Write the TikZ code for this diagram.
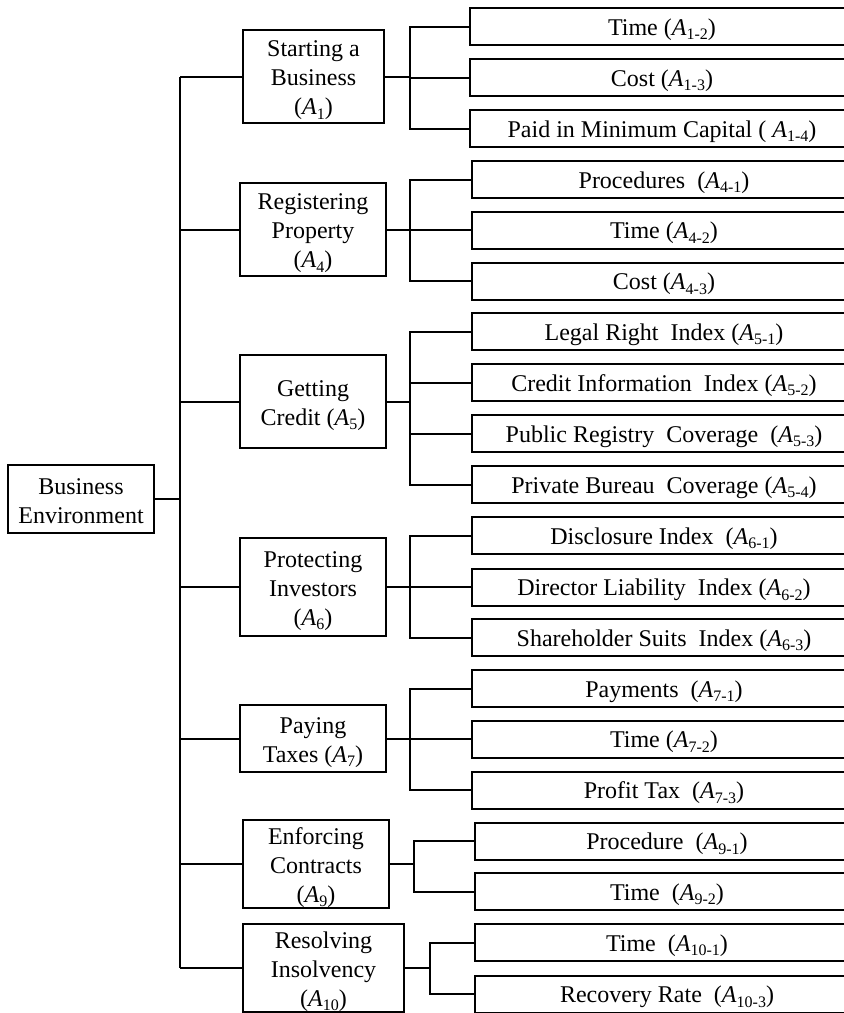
\documentclass[tikz,border=0pt]{standalone}
\usepackage{fontspec}
\setmainfont{Liberation Serif}
% italic A with a lowered, smaller index that does not change the line depth
\newcommand\Ai[1]{\textit{A}{\fontsize{16}{16}\selectfont\raisebox{-4.5pt}[0pt][0pt]{#1}}}
% taller first line for the category boxes
\newcommand\toprule{\rule{0pt}{24pt}}
\tikzset{
  box/.style={draw, line width=2pt, align=center, inner sep=2pt,
    font=\fontsize{24}{29}\selectfont},
  catbox/.style={box, inner ysep=0pt},
  leafbox/.style={box, anchor=west, minimum width=384pt, minimum height=37pt,
    text height=17pt, text depth=0pt},
  link/.style={line width=2pt}
}
\begin{document}
\begin{tikzpicture}[x=1pt, y=-1pt]
\useasboundingbox (0,0) rectangle (844,1013);

% root
\node[box, minimum width=146pt, minimum height=68pt] (root) at (81,499) {\rule{0pt}{20pt}Business\\Environment};

% first-level categories
\node[catbox, minimum width=141pt, minimum height=93pt] (a1) at (313.5,76.5) {\toprule Starting a\\Business\\(\Ai{1})};
\node[catbox, minimum width=146pt, minimum height=93pt] (a4) at (313,229.5) {\toprule Registering\\Property\\(\Ai{4})};
\node[catbox, minimum width=146pt, minimum height=93pt] (a5) at (313,401.5) {\toprule Getting\\Credit (\Ai{5})};
\node[catbox, minimum width=146pt, minimum height=98pt] (a6) at (313,587) {\toprule Protecting\\Investors\\(\Ai{6})};
\node[catbox, minimum width=146pt, minimum height=67pt] (a7) at (313,738.5) {\toprule Paying\\Taxes (\Ai{7})};
\node[catbox, minimum width=146pt, minimum height=88pt] (a9) at (316,864) {\toprule Enforcing\\Contracts\\(\Ai{9})};
\node[catbox, minimum width=161pt, minimum height=88pt] (a10) at (323.5,968) {\toprule Resolving\\Insolvency\\(\Ai{10})};

% indicators
\node[leafbox] (l1) at (469,26.5) {Time (\Ai{1-2})};
\node[leafbox] (l2) at (469,77.5) {Cost (\Ai{1-3})};
\node[leafbox] (l3) at (469,128.5) {Paid in Minimum Capital ( \Ai{1-4})};
\node[leafbox] (l4) at (471,179.5) {Procedures\ \ (\Ai{4-1})};
\node[leafbox] (l5) at (471,230) {Time (\Ai{4-2})};
\node[leafbox] (l6) at (471,281) {Cost (\Ai{4-3})};
\node[leafbox] (l7) at (471,331.5) {Legal Right\ \ Index (\Ai{5-1})};
\node[leafbox] (l8) at (471,382.5) {Credit Information\ \ Index (\Ai{5-2})};
\node[leafbox] (l9) at (471,433.5) {Public Registry\ \ Coverage\ \ (\Ai{5-3})};
\node[leafbox] (l10) at (471,484.5) {Private Bureau\ \ Coverage (\Ai{5-4})};
\node[leafbox] (l11) at (471,535.5) {Disclosure Index\ \ (\Ai{6-1})};
\node[leafbox] (l12) at (471,587) {Director Liability\ \ Index (\Ai{6-2})};
\node[leafbox] (l13) at (471,637.5) {Shareholder Suits\ \ Index (\Ai{6-3})};
\node[leafbox] (l14) at (471,688.5) {Payments\ \ (\Ai{7-1})};
\node[leafbox] (l15) at (471,739) {Time (\Ai{7-2})};
\node[leafbox] (l16) at (471,790) {Profit Tax\ \ (\Ai{7-3})};
\node[leafbox] (l17) at (474,841) {Procedure\ \ (\Ai{9-1})};
\node[leafbox] (l18) at (474,891.5) {Time\ \ (\Ai{9-2})};
\node[leafbox] (l19) at (474,942.5) {Time\ \ (\Ai{10-1})};
\node[leafbox] (l20) at (474,994) {Recovery Rate\ \ (\Ai{10-3})};

% trunk and branch columns
\coordinate (trunk) at (180,0);
\coordinate (bA) at (410,0);
\coordinate (bB) at (414,0);
\coordinate (bC) at (430,0);

% root to categories
\draw[link] (root.east) -- (root.east -| trunk);
\draw[link] (a1.west -| trunk) -- (a10.west -| trunk);
\foreach \n in {a1,a4,a5,a6,a7,a9,a10}
  \draw[link] (\n.west) -- (\n.west -| trunk);

% categories to indicators
\draw[link] (a1.east) -- (a1.east -| bA);
\draw[link] (l1.west) -| (bA |- l3.west) -- (l3.west);
\draw[link] (l2.west) -- (l2.west -| bA);

\draw[link] (a4.east) -- (a4.east -| bA);
\draw[link] (l4.west) -| (bA |- l6.west) -- (l6.west);
\draw[link] (l5.west) -- (l5.west -| bA);

\draw[link] (a5.east) -- (a5.east -| bA);
\draw[link] (l7.west) -| (bA |- l10.west) -- (l10.west);
\draw[link] (l8.west) -- (l8.west -| bA);
\draw[link] (l9.west) -- (l9.west -| bA);

\draw[link] (a6.east) -- (a6.east -| bA);
\draw[link] (l11.west) -| (bA |- l13.west) -- (l13.west);
\draw[link] (l12.west) -- (l12.west -| bA);

\draw[link] (a7.east) -- (a7.east -| bA);
\draw[link] (l14.west) -| (bA |- l16.west) -- (l16.west);
\draw[link] (l15.west) -- (l15.west -| bA);

\draw[link] (a9.east) -- (a9.east -| bB);
\draw[link] (l17.west) -| (bB |- l18.west) -- (l18.west);

\draw[link] (a10.east) -- (a10.east -| bC);
\draw[link] (l19.west) -| (bC |- l20.west) -- (l20.west);
\end{tikzpicture}
\end{document}
